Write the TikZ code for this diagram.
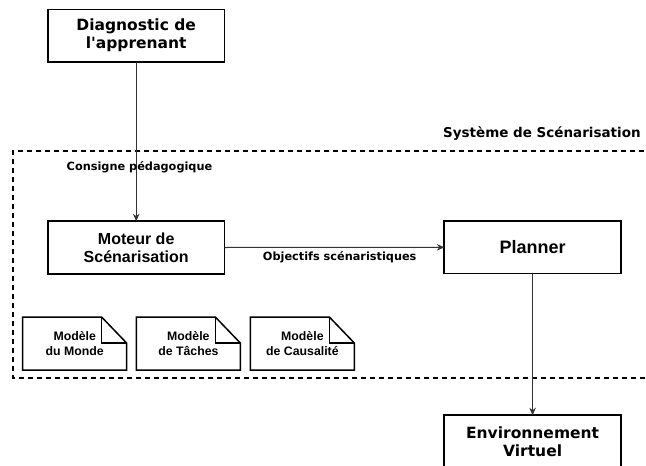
\documentclass[tikz,border=0pt]{standalone}
\usepackage{fontspec}
\setmainfont{Liberation Sans}
\newfontfamily\dejavu[Ligatures=TeXOff]{DejaVu Sans}
\usetikzlibrary{arrows.meta}
\begin{document}
\begin{tikzpicture}[x=1pt,y=-1pt,
  box/.style={draw, line width=1.8pt, minimum width=176.5pt, minimum height=52.5pt, inner sep=0pt, outer sep=0pt, align=center},
  vfont/.style={font=\dejavu\bfseries\fontsize{15.5}{18}\selectfont},
  afont/.style={font=\bfseries\fontsize{16}{18}\selectfont},
  lbl/.style={font=\dejavu\bfseries\fontsize{11.3}{13}\selectfont, inner sep=0pt},
  conn/.style={line width=1pt, draw=black!80, -{Stealth[length=7.5pt,width=6.5pt]}},
  doc/.style={minimum width=104pt, minimum height=53pt, inner sep=0pt, outer sep=0pt, align=center, font=\bfseries\fontsize{12.3}{15}\selectfont},
  docline/.style={line width=1.5pt, line join=miter},
  frame/.style={line width=1.8pt, dash pattern=on 5pt off 4pt}]
\clip (0,0) rectangle (646,466);
% frame
\draw[frame] (680,150.7) -- (13.3,150.7) -- (13.3,378) -- (680,378);
\node[font=\dejavu\bfseries\fontsize{13.5}{15}\selectfont, inner sep=0pt] (sys) at (541.9,134) {Système de Scénarisation};
% boxes
\node[box, vfont] (diag) at (136.2,35.7) {Diagnostic de\\l'apprenant};
\node[box, afont] (mot) at (136.2,247.5) {Moteur de\\Scénarisation};
\node[box, font=\bfseries\fontsize{18}{20}\selectfont] (plan) at (532.6,247.3) {Planner};
\node[box, vfont] (env) at (532.6,441.5) {Environnement\\Virtuel};
% connectors
\draw[conn] (diag.south) -- (mot.north);
\draw[conn] (mot.east) -- (plan.west);
\draw[conn] (plan.south) -- (env.north);
\node[lbl] (l1) at (139.5,167) {Consigne pédagogique};
\node[lbl] (l2) at (339.7,257) {Objectifs scénaristiques};
% documents
\node[doc] (m1) at (74.7,343.6) {Modèle\\du Monde};
\node[doc] (m2) at (188.4,343.6) {Modèle\\de Tâches};
\node[doc] (m3) at (302.4,343.6) {Modèle\\de Causalité};
\foreach \m in {m1,m2,m3}{
  \draw[docline] (\m.north west) -- ([xshift=-25pt]\m.north east) -- ([yshift=-26pt]\m.north east) -- (\m.south east) -- (\m.south west) -- cycle;
  \draw[docline] ([xshift=-25pt]\m.north east) -- ([xshift=-25pt,yshift=-26pt]\m.north east) -- ([yshift=-26pt]\m.north east);
}
\end{tikzpicture}
\end{document}
